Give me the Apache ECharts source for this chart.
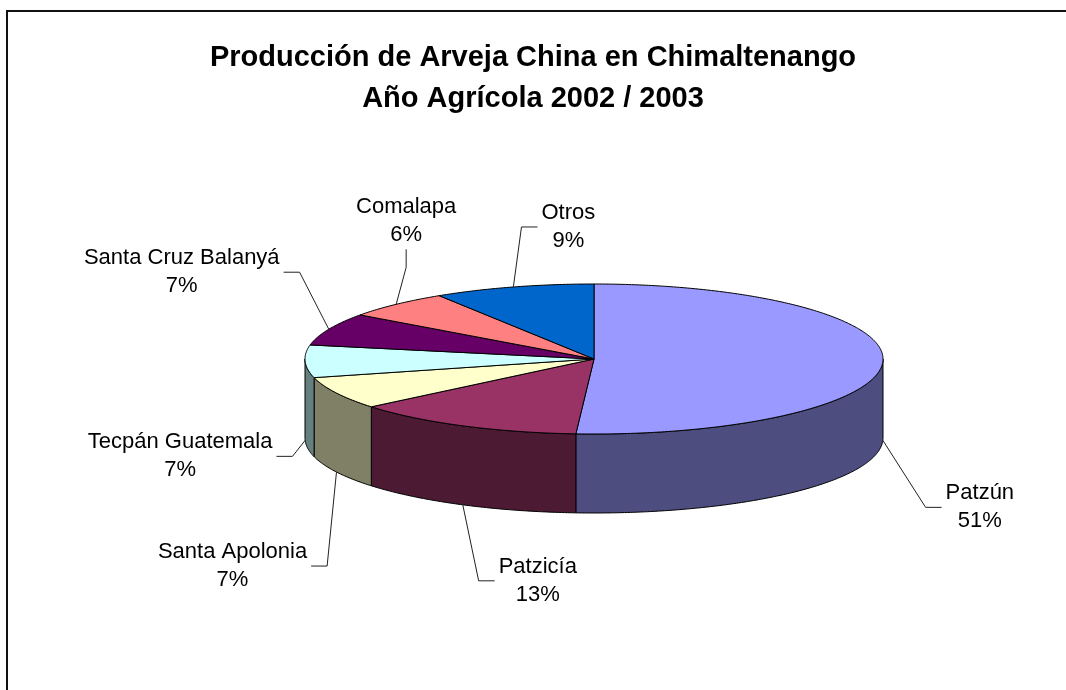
<!DOCTYPE html>
<html>
<head>
<meta charset="utf-8">
<script src="https://cdn.jsdelivr.net/npm/echarts@6/dist/echarts.min.js"></script>
<style>
html,body{margin:0;padding:0;background:#fff}
#grafica{width:1066px;height:690px}
</style>
</head>
<body>
<div id="grafica"></div>
<script>
/*datos*/
var municipios = ['Patzún', 'Patzicía', 'Santa Apolonia', 'Tecpán Guatemala', 'Santa Cruz Balanyá', 'Comalapa', 'Otros'];
var produccion = [51, 13, 7, 7, 7, 6, 9];
var coloresTapa = ['#9999FF', '#993366', '#FFFFCC', '#CCFFFF', '#660066', '#FF8080', '#0066CC'];
var coloresLado = ['#4D4D80', '#4D1A33', '#808066', '#668080', '#330033', '#804040', '#003366'];

/*geometria del pastel 3D*/
var cx = 594, cy = 359, rx = 289, ry = 75, alto = 79;
// desplazamiento de cada etiqueta respecto a su punto de anclaje
var etiquetaDesp = [[97, 67], [75, 76], [-104, 94], [-125, 16], [-147, -57], [10, -83], [55, -60]];
var fuente = '22px "Liberation Sans", Arial, sans-serif';
var altoLinea = 28;

var total = produccion.reduce(function (a, b) { return a + b; }, 0);
var inicio = [];
var acum = 0;
produccion.forEach(function (v) { inicio.push(acum / total); acum += v; });

var ctx = document.createElement('canvas').getContext('2d');
ctx.font = fuente;

function punto(t, dy) {
    return [cx + rx * Math.sin(t), cy - ry * Math.cos(t) + (dy || 0)];
}
function arco(a0, a1, dy) {
    var pts = [];
    var n = Math.max(2, Math.ceil((a1 - a0) / 0.01));
    for (var k = 0; k <= n; k++) pts.push(punto(a0 + (a1 - a0) * k / n, dy));
    return pts;
}

function renderItem(params, api) {
    var i = params.dataIndex;
    var a0 = inicio[i] * 2 * Math.PI;
    var a1 = a0 + api.value(1) / total * 2 * Math.PI;
    var hijos = [];

    // cara lateral visible (mitad frontal)
    var s = Math.max(a0, Math.PI / 2), e = Math.min(a1, Math.PI * 1.5);
    if (e > s) {
        hijos.push({
            type: 'polygon',
            shape: { points: arco(s, e, 0).concat(arco(s, e, alto).reverse()) },
            style: { fill: coloresLado[i], stroke: '#000', lineWidth: 1 }
        });
    }
    // tapa
    hijos.push({
        type: 'polygon',
        shape: { points: [[cx, cy]].concat(arco(a0, a1, 0)) },
        style: { fill: coloresTapa[i], stroke: '#000', lineWidth: 1 }
    });

    // etiqueta y linea guia
    var medio = (a0 + a1) / 2;
    var ancla = punto(medio, Math.cos(medio) < 0 ? alto : 0);
    var d = etiquetaDesp[i];
    var lx = ancla[0] + d[0], ly = ancla[1] + d[1];
    var pct = Math.round(api.value(1) / total * 100) + '%';
    var w = Math.max(ctx.measureText(municipios[i]).width, ctx.measureText(pct).width);
    var guia;
    if (Math.abs(d[0]) > w / 2 + 5) {
        var lado = d[0] > 0 ? 1 : -1;
        var fin = lx - lado * (w / 2 + 4);
        guia = [ancla, [fin - lado * 16, ly], [fin, ly]];
    } else {
        var fy = ly + (d[1] < 0 ? 1 : -1) * altoLinea;
        guia = [ancla, [lx, fy + (d[1] < 0 ? 18 : -18)], [lx, fy]];
    }
    hijos.push({
        type: 'polyline',
        shape: { points: guia },
        style: { stroke: '#222', lineWidth: 1, fill: null }
    });
    hijos.push({
        type: 'text',
        style: {
            text: municipios[i] + '\n' + pct,
            x: lx, y: ly,
            align: 'center', verticalAlign: 'middle',
            font: fuente, lineHeight: altoLinea, fill: '#000'
        }
    });
    return { type: 'group', children: hijos };
}

var myChart = echarts.init(document.getElementById('grafica'));
var option = {
    backgroundColor: '#fff',
    animation: false,
    title: {
        text: 'Producción de Arveja China en Chimaltenango\nAño Agrícola 2002 / 2003',
        left: 'center',
        top: 37,
        padding: [0, 0, 0, 12],
        textStyle: {
            fontFamily: '"Liberation Sans", Arial, sans-serif',
            fontSize: 29,
            fontWeight: 'bold',
            lineHeight: 41,
            color: '#000'
        }
    },
    graphic: [{
        type: 'rect',
        shape: { x: 7, y: 11, width: 1100, height: 700 },
        style: { fill: 'none', stroke: '#111', lineWidth: 2 },
        silent: true
    }],
    series: [{
        type: 'custom',
        coordinateSystem: 'none',
        data: municipios.map(function (n, i) { return { name: n, value: [i, produccion[i]] }; }),
        renderItem: renderItem
    }]
};
myChart.setOption(option);
</script>
</body>
</html>
